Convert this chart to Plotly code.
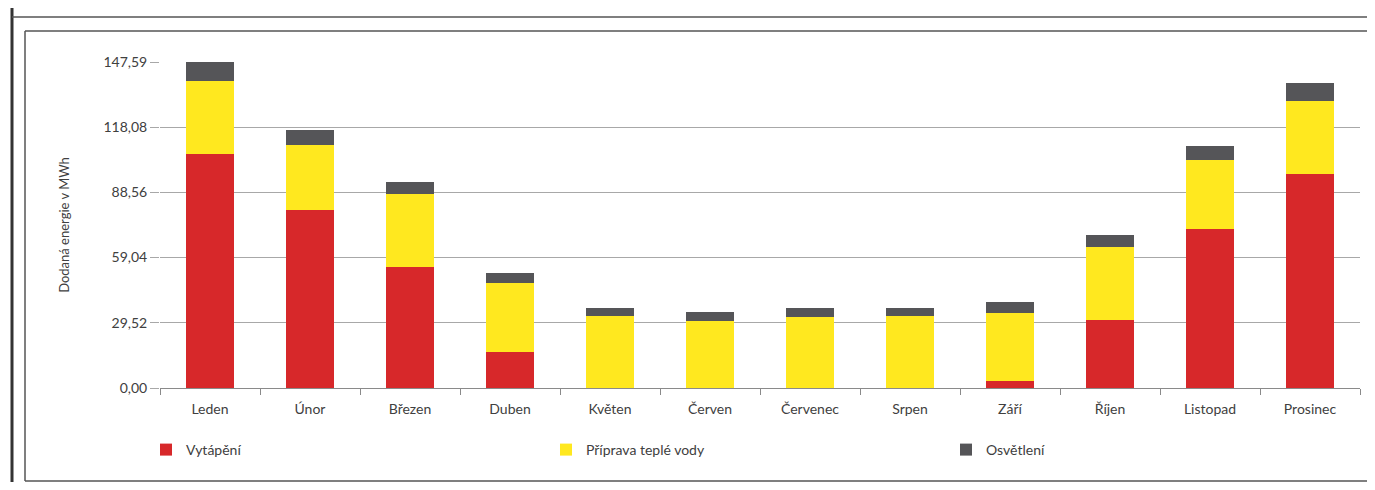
import plotly.graph_objects as go

months = ["Leden", "Únor", "Březen", "Duben", "Květen", "Červen",
          "Červenec", "Srpen", "Září", "Říjen", "Listopad", "Prosinec"]
vytapeni = [106.1, 80.5, 54.8, 16.2, 0.0, 0.0, 0.0, 0.0, 3.0, 30.7, 71.8, 97.0]
priprava_tv = [33.0, 29.3, 33.0, 31.2, 32.4, 30.2, 32.3, 32.5, 31.1, 33.1, 31.4, 33.1]
osvetleni = [8.5, 6.8, 5.5, 4.6, 3.6, 4.0, 3.7, 3.6, 4.8, 5.6, 6.2, 8.2]
y_tickvals = [0.0, 29.52, 59.04, 88.56, 118.08, 147.59]
y_ticktext = ["0,00", "29,52", "59,04", "88,56", "118,08", "147,59"]
series_names = ["Vytápění", "Příprava teplé vody", "Osvětlení"]
colors = ["#D7282A", "#FFE81F", "#555558"]

W, H = 1359, 474
L, R, T, B = 152, 7, 54, 94
OFF = 8  # page offset of the figure

font = "Lato, 'Open Sans', sans-serif"

PW = W - L - R
PH = H - T - B


def px_x(px):
    return (px - OFF - L) / PW


def px_y(py):
    return (H - B - (py - OFF)) / PH


legend_ids = ["legend", "legend2", "legend3"]
legend_px = [146, 546, 946]

fig = go.Figure()
for name, vals, col, lid in zip(series_names, [vytapeni, priprava_tv, osvetleni], colors, legend_ids):
    fig.add_trace(go.Bar(x=months, y=vals, name=name, legend=lid,
                         marker=dict(color=col, line=dict(width=0)), width=0.48))


def hline(x0, x1, y, w=1.5, c="#555555"):
    return dict(type="line", xref="paper", yref="paper", x0=px_x(x0), x1=px_x(x1),
                y0=px_y(y), y1=px_y(y), line=dict(color=c, width=w))


def vline(x, y0, y1, w=1.5, c="#555555"):
    return dict(type="line", xref="paper", yref="paper", x0=px_x(x), x1=px_x(x),
                y0=px_y(y0), y1=px_y(y1), line=dict(color=c, width=w))


EDGE = OFF + W
shapes = [
    vline(12, 8, EDGE, w=3, c="#333333"),
    hline(12, EDGE, 17),
    hline(25, EDGE, 31),
    vline(25, 31, 481),
    hline(25, EDGE, 481),
]

legend_common = dict(orientation="h", xanchor="left", yanchor="middle",
                     font=dict(family=font, size=14, color="#404040"),
                     bgcolor="rgba(0,0,0,0)")
legends = {}
for lid, lx in zip(legend_ids, legend_px):
    legends[lid] = dict(legend_common, x=px_x(lx), y=px_y(450))

fig.update_layout(
    width=W, height=H,
    margin=dict(l=L, r=R, t=T, b=B),
    barmode="stack",
    bargap=0.52,
    paper_bgcolor="white",
    plot_bgcolor="white",
    font=dict(family=font, size=13, color="#404040"),
    showlegend=True,
    shapes=shapes,
    xaxis=dict(showgrid=False, showline=True, linecolor="#8a8a8a", linewidth=1,
               ticks="outside", tickson="boundaries", ticklen=6, tickcolor="#8a8a8a",
               ticklabelstandoff=8,
               tickfont=dict(family=font, size=14, color="#404040"), fixedrange=True),
    yaxis=dict(range=[0, 147.59], tickvals=y_tickvals, ticktext=y_ticktext,
               showgrid=True, gridcolor="#a8a8a8", gridwidth=1, zeroline=False,
               showline=False, ticks="outside", ticklen=9, tickcolor="#a8a8a8",
               tickfont=dict(family=font, size=14, color="#404040"),
               title=dict(text="Dodaná energie v MWh", standoff=30,
                          font=dict(family=font, size=13, color="#404040"))),
    **legends,
)

fig.write_html("out.html")
